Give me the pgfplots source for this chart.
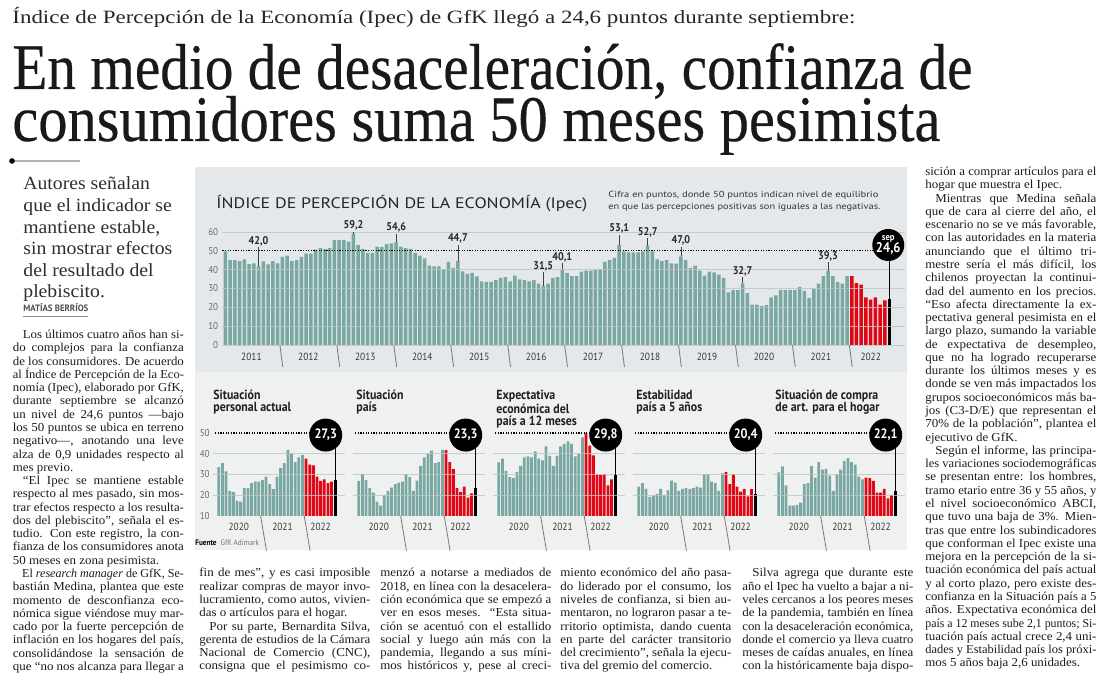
\documentclass[border=0pt]{standalone}
\usepackage{pgfplots}
\pgfplotsset{compat=1.18}
\usepackage{pgfplotstable}
\usepackage{graphicx}
\usepackage{fontspec}
\setmainfont{Liberation Serif}
\newfontfamily\headf{Liberation Serif}
\newfontfamily\bigf[FakeBold=0.35]{Liberation Serif}
\newfontfamily\bodyf[FakeStretch=1.06]{Liberation Serif}
\newfontfamily\chartf[FakeStretch=0.9]{PT Sans}

\definecolor{barteal}{RGB}{121,167,161}
\definecolor{barred}{RGB}{225,6,19}
\definecolor{pandark}{RGB}{228,232,234}
\definecolor{panlight}{RGB}{239,241,241}
\definecolor{gridc}{RGB}{188,196,199}
\definecolor{tickc}{RGB}{105,105,105}
\definecolor{yearc}{RGB}{55,55,55}
\definecolor{sepc}{RGB}{120,120,120}
\definecolor{bodyc}{RGB}{28,28,28}

% Ipec mensual, ene 2011 - sep 2022
\pgfplotstableread{
yr mo v
2011 1 49.7
2011 2 45.1
2011 3 45.1
2011 4 44.6
2011 5 45.5
2011 6 42.9
2011 7 43.4
2011 8 42.0
2011 9 44.4
2011 10 42.8
2011 11 44.6
2011 12 43.4
2012 1 46.8
2012 2 47.5
2012 3 44.6
2012 4 45.0
2012 5 46.8
2012 6 48.5
2012 7 48.5
2012 8 50.6
2012 9 51.5
2012 10 50.9
2012 11 51.5
2012 12 55.7
2013 1 55.7
2013 2 55.7
2013 3 54.9
2013 4 59.2
2013 5 53.2
2013 6 51.1
2013 7 48.9
2013 8 48.9
2013 9 52.3
2013 10 52.0
2013 11 53.5
2013 12 53.9
2014 1 54.6
2014 2 52.3
2014 3 51.5
2014 4 51.1
2014 5 48.9
2014 6 47.5
2014 7 46.0
2014 8 42.1
2014 9 41.7
2014 10 41.7
2014 11 40.3
2014 12 44.1
2015 1 40.9
2015 2 44.7
2015 3 39.1
2015 4 37.8
2015 5 38.3
2015 6 36.4
2015 7 33.8
2015 8 33.5
2015 9 33.5
2015 10 34.4
2015 11 35.6
2015 12 36.1
2016 1 33.8
2016 2 36.9
2016 3 34.9
2016 4 34.4
2016 5 33.8
2016 6 34.4
2016 7 32.6
2016 8 31.5
2016 9 32.6
2016 10 35.6
2016 11 36.1
2016 12 40.1
2017 1 38.3
2017 2 36.6
2017 3 36.6
2017 4 39.0
2017 5 39.5
2017 6 39.5
2017 7 40.0
2017 8 40.0
2017 9 44.1
2017 10 45.1
2017 11 46.3
2017 12 53.1
2018 1 49.7
2018 2 49.2
2018 3 49.2
2018 4 49.2
2018 5 49.7
2018 6 52.7
2018 7 49.7
2018 8 45.5
2018 9 44.6
2018 10 45.1
2018 11 43.4
2018 12 43.2
2019 1 47.0
2019 2 45.1
2019 3 40.9
2019 4 42.1
2019 5 39.5
2019 6 36.9
2019 7 39.0
2019 8 38.6
2019 9 37.3
2019 10 35.6
2019 11 28.0
2019 12 29.2
2020 1 29.2
2020 2 32.7
2020 3 27.5
2020 4 21.5
2020 5 21.5
2020 6 20.7
2020 7 21.2
2020 8 25.3
2020 9 26.3
2020 10 29.2
2020 11 29.2
2020 12 29.2
2021 1 29.2
2021 2 30.9
2021 3 28.7
2021 4 25.0
2021 5 29.7
2021 6 32.6
2021 7 36.6
2021 8 39.3
2021 9 36.6
2021 10 33.5
2021 11 32.6
2021 12 36.6
2022 1 36.6
2022 2 32.8
2022 3 32.1
2022 4 25.3
2022 5 24.1
2022 6 25.3
2022 7 21.5
2022 8 23.7
2022 9 24.6
}\ipec

% subindicadores, ene 2020 - sep 2022
% a: situacion personal, b: situacion pais, c: expectativa 12 meses,
% d: estabilidad 5 anos, e: compra art. hogar
\pgfplotstableread{
yr mo a b c d e
2020 1 33.5 26.9 35.8 24.2 31.0
2020 2 35.5 30.3 37.6 25.8 33.9
2020 3 31.5 27.4 31.8 23.1 24.7
2020 4 22.1 23.4 28.7 19.2 15.0
2020 5 21.5 21.3 28.2 19.8 15.0
2020 6 17.4 16.9 31.1 20.6 15.3
2020 7 16.9 15.0 34.2 23.1 16.5
2020 8 23.4 20.2 38.2 20.2 25.3
2020 9 23.4 22.1 38.7 22.3 25.8
2020 10 25.8 23.7 38.2 27.1 34.2
2020 11 26.6 25.3 41.1 26.1 28.5
2020 12 26.6 26.1 37.6 22.1 36.0
2021 1 27.4 26.6 36.8 23.1 32.3
2021 2 29.0 30.2 43.5 23.4 32.7
2021 3 25.3 28.7 39.0 23.1 29.5
2021 4 22.9 22.1 34.2 23.4 22.1
2021 5 29.0 27.1 39.0 24.2 30.2
2021 6 33.1 34.2 43.5 23.7 32.3
2021 7 35.5 38.2 44.8 30.2 36.6
2021 8 41.9 40.2 46.0 30.2 37.9
2021 9 40.3 41.5 44.7 26.6 36.0
2021 10 36.0 35.5 38.7 25.8 34.7
2021 11 38.2 36.0 39.8 22.1 29.0
2021 12 39.5 41.9 47.9 30.6 27.7
2022 1 37.6 41.8 49.8 31.1 28.5
2022 2 34.7 36.0 43.9 25.3 28.2
2022 3 34.4 32.6 39.2 30.2 26.9
2022 4 29.0 23.4 30.2 24.2 21.3
2022 5 26.9 21.5 29.8 21.8 21.3
2022 6 27.7 24.2 30.2 23.1 23.1
2022 7 25.8 18.9 24.7 19.4 18.5
2022 8 26.6 20.9 27.7 23.0 20.2
2022 9 27.3 23.3 29.8 20.4 22.1
}\subt

\tikzset{
  yl/.style={font=\chartf\fontsize{5.2pt}{5.2pt}\selectfont, text=yearc, inner sep=0pt},
  sepl/.style={draw=sepc, line width=0.4pt},
  gridl/.style={draw=gridc, line width=0.4pt, opacity=0.8},
  dotl/.style={draw=black, line width=0.6pt, dash pattern=on 0.6pt off 0.7pt},
  annl/.style={draw=black!75, line width=0.35pt},
  annt/.style={font=\chartf\bfseries\fontsize{5.6pt}{5.6pt}\selectfont, text=black!85, inner sep=0.4pt, anchor=south},
  badge/.style={circle, fill=black, inner sep=0pt, text=white, font=\chartf\bfseries\fontsize{6.8pt}{6.8pt}\selectfont},
}

\pgfplotsset{
  smallax/.style={anchor=south west, scale only axis, width=66pt, height=41.5pt,
    xmin=-1.6, xmax=34.7, ymin=10, ymax=50, axis line style={draw=none},
    xtick=\empty, ytick=\empty, major tick length=0pt, clip mode=individual,
    yticklabel style={font=\chartf\fontsize{5pt}{5pt}\selectfont, text=tickc, anchor=east, inner sep=0pt, xshift=-1.5pt},
    /pgf/number format/assume math mode=true},
}

% one small chart: left (pt), column, badge text, last value, extra axis options
\newcommand\smallchart[5]{%
\begin{axis}[smallax, at={(#1,-258pt)}, #5]
\addplot[ybar, bar width=1.4pt, fill=barteal, draw=none, restrict x to domain=0:23] table[x expr=\coordindex, y=#2]{\subt};
\addplot[ybar, bar width=1.4pt, fill=barred, draw=none, restrict x to domain=24:31] table[x expr=\coordindex, y=#2]{\subt};
\addplot[ybar, bar width=1.4pt, fill=black, draw=none, restrict x to domain=32:32] table[x expr=\coordindex, y=#2]{\subt};
\draw[gridl] (axis cs:-1.6,20) -- (axis cs:34.7,20);
\draw[gridl] (axis cs:-1.6,30) -- (axis cs:34.7,30);
\draw[gridl] (axis cs:-1.6,40) -- (axis cs:34.7,40);
\draw[dotl] (axis cs:-1,50) -- (axis cs:25,50);
\draw[sepl] (axis cs:11.5,10) -- ++(0,-7pt);
\draw[sepl] (axis cs:23.5,10) -- ++(0,-7pt);
\node[yl, yshift=-5.5pt] at (axis cs:5.5,10) {2020};
\node[yl, yshift=-5.5pt] at (axis cs:17.5,10) {2021};
\node[yl, yshift=-5.5pt] at (axis cs:28,10) {2022};
\draw[annl, black] (axis cs:32,#4) -- (axis cs:32,49);
\node[badge, minimum size=16.5pt] at (axis cs:29.4,49) {#3};
\end{axis}}

% body text: justified lines of fixed width, squeezed if too long
\newlength\cw
\setlength\cw{85.5pt}
\newcommand\J[1]{\setbox0\hbox{#1}\ifdim\wd0>\cw\hbox{\resizebox{\cw}{\height}{#1}}\else\hbox to\cw{#1}\fi}
\newcommand\F[1]{\setbox0\hbox{#1}\ifdim\wd0>\cw\hbox{\resizebox{\cw}{\height}{#1}}\else\hbox to\cw{#1\hfil}\fi}
\newcommand\ind{\hskip 5pt\relax}
\newcommand\bodycol[3]{\node[anchor=base west, inner sep=0pt, text=bodyc] at (#1,#2)
  {\vtop{\bodyf\fontsize{6.1pt}{6.64pt}\selectfont\baselineskip=6.64pt\lineskiplimit=-\maxdimen #3}};}

\begin{document}
\begin{tikzpicture}[x=0.5pt,y=-0.5pt]
\path[use as bounding box, fill=white] (0,0) rectangle (1100,683);

% titulares
\node[anchor=base west, inner sep=0pt, text=black!85] at (12,24)
  {\resizebox{421.5pt}{\height}{\headf\fontsize{9.4pt}{10pt}\selectfont Índice de Percepción de la Economía (Ipec) de GfK llegó a 24,6 puntos durante septiembre:}};
\node[anchor=base west, inner sep=0pt, text=black!90] at (12,89)
  {\resizebox{480pt}{\height}{\bigf\fontsize{32.5pt}{33pt}\selectfont En medio de desaceleración, confianza de}};
\node[anchor=base west, inner sep=0pt, text=black!90] at (12,141)
  {\resizebox{464pt}{\height}{\bigf\fontsize{32.5pt}{33pt}\selectfont consumidores suma 50 meses pesimista}};

\draw[black!30, line width=0.7pt] (12,161) -- (80,161);
\fill[black] (12,161) circle[radius=1.4pt];

% bajada
\node[anchor=base west, inner sep=0pt, text=black!82] at (23,190)
  {\vtop{\bodyf\fontsize{9.3pt}{10.8pt}\selectfont\baselineskip=10.8pt\lineskiplimit=-\maxdimen
   \hbox{Autores señalan}\hbox{que el indicador se}\hbox{mantiene estable,}\hbox{sin mostrar efectos}\hbox{del resultado del}\hbox{plebiscito.}}};
\node[anchor=base west, inner sep=0pt, text=black!70] at (23,312)
  {\resizebox{32.5pt}{\height}{\chartf\bfseries\fontsize{4.6pt}{5pt}\selectfont MATÍAS BERRÍOS}};
\draw[black!45, line width=0.4pt] (23,316) -- (88,316);

% columna izquierda
\bodycol{12.5}{338.5}{%
\J{\ind Los últimos cuatro años han si-}
\J{do complejos para la confianza}
\J{de los consumidores. De acuerdo}
\J{al Índice de Percepción de la Eco-}
\J{nomía (Ipec), elaborado por GfK,}
\J{durante septiembre se alcanzó}
\J{un nivel de 24,6 puntos —bajo}
\J{los 50 puntos se ubica en terreno}
\J{negativo—, anotando una leve}
\J{alza de 0,9 unidades respecto al}
\F{mes previo.}
\J{\ind “El Ipec se mantiene estable}
\J{respecto al mes pasado, sin mos-}
\J{trar efectos respecto a los resulta-}
\J{dos del plebiscito”, señala el es-}
\J{tudio. Con este registro, la con-}
\J{fianza de los consumidores anota}
\F{50 meses en zona pesimista.}
\J{\ind El \textit{research manager} de GfK, Se-}
\J{bastián Medina, plantea que este}
\J{momento de desconfianza eco-}
\J{nómica sigue viéndose muy mar-}
\J{cado por la fuerte percepción de}
\J{inflación en los hogares del país,}
\J{consolidándose la sensación de}
\J{que “no nos alcanza para llegar a}}

% columna derecha
\bodycol{925}{175.5}{%
\J{sición a comprar artículos para el}
\F{hogar que muestra el Ipec.}
\J{\ind Mientras que Medina señala}
\J{que de cara al cierre del año, el}
\J{escenario no se ve más favorable,}
\J{con las autoridades en la materia}
\J{anunciando que el último tri-}
\J{mestre sería el más difícil, los}
\J{chilenos proyectan la continui-}
\J{dad del aumento en los precios.}
\J{“Eso afecta directamente la ex-}
\J{pectativa general pesimista en el}
\J{largo plazo, sumando la variable}
\J{de expectativa de desempleo,}
\J{que no ha logrado recuperarse}
\J{durante los últimos meses y es}
\J{donde se ven más impactados los}
\J{grupos socioeconómicos más ba-}
\J{jos (C3-D/E) que representan el}
\J{70\% de la población”, plantea el}
\F{ejecutivo de GfK.}
\J{\ind Según el informe, las principa-}
\J{les variaciones sociodemográficas}
\J{se presentan entre: los hombres,}
\J{tramo etario entre 36 y 55 años, y}
\J{el nivel socioeconómico ABCI,}
\J{que tuvo una baja de 3\%. Mien-}
\J{tras que entre los subindicadores}
\J{que conforman el Ipec existe una}
\J{mejora en la percepción de la si-}
\J{tuación económica del país actual}
\J{y al corto plazo, pero existe des-}
\J{confianza en la Situación país a 5}
\J{años. Expectativa económica del}
\J{país a 12 meses sube 2,1 puntos; Si-}
\J{tuación país actual crece 2,4 uni-}
\J{dades y Estabilidad país los próxi-}
\F{mos 5 años baja 2,6 unidades.}}

% columnas bajo el grafico
\bodycol{199}{577}{%
\J{fin de mes”, y es casi imposible}
\J{realizar compras de mayor invo-}
\J{lucramiento, como autos, vivien-}
\F{das o artículos para el hogar.}
\J{\ind Por su parte, Bernardita Silva,}
\J{gerenta de estudios de la Cámara}
\J{Nacional de Comercio (CNC),}
\J{consigna que el pesimismo co-}}
\bodycol{380}{577}{%
\J{menzó a notarse a mediados de}
\J{2018, en línea con la desacelera-}
\J{ción económica que se empezó a}
\J{ver en esos meses. “Esta situa-}
\J{ción se acentuó con el estallido}
\J{social y luego aún más con la}
\J{pandemia, llegando a sus míni-}
\J{mos históricos y, pese al creci-}}
\bodycol{560}{577}{%
\J{miento económico del año pasa-}
\J{do liderado por el consumo, los}
\J{niveles de confianza, si bien au-}
\J{mentaron, no lograron pasar a te-}
\J{rritorio optimista, dando cuenta}
\J{en parte del carácter transitorio}
\J{del crecimiento”, señala la ejecu-}
\F{tiva del gremio del comercio.}}
\bodycol{742}{577}{%
\J{\ind Silva agrega que durante este}
\J{año el Ipec ha vuelto a bajar a ni-}
\J{veles cercanos a los peores meses}
\J{de la pandemia, también en línea}
\J{con la desaceleración económica,}
\J{donde el comercio ya lleva cuatro}
\J{meses de caídas anuales, en línea}
\J{con la históricamente baja dispo-}}

% paneles del grafico
\fill[panlight] (195,372) rectangle (907,550);
\fill[pandark] (195,167) rectangle (907,372);

\node[anchor=base west, inner sep=0pt, text=black!85] at (216,209)
  {\resizebox{185.5pt}{\height}{\chartf\fontsize{7.6pt}{8pt}\selectfont ÍNDICE DE PERCEPCIÓN DE LA ECONOMÍA (Ipec)}};
\node[anchor=base west, inner sep=0pt, text=black!80] at (608,198)
  {\resizebox{135pt}{\height}{\chartf\fontsize{4.4pt}{5pt}\selectfont Cifra en puntos, donde 50 puntos indican nivel de equilibrio}};
\node[anchor=base west, inner sep=0pt, text=black!80] at (608,209.5)
  {\resizebox{136pt}{\height}{\chartf\fontsize{4.4pt}{5pt}\selectfont en que las percepciones positivas son iguales a las negativas.}};

% titulos de los graficos chicos
\begin{scope}[every node/.style={anchor=north west, inner sep=0pt, align=left, text=black!88,
    font=\chartf\bfseries\fontsize{6.6pt}{6pt}\selectfont}]
\node at (213,390) {Situación\\personal actual};
\node at (356,390) {Situación\\país};
\node at (496,390) {Expectativa\\económica del\\país a 12 meses};
\node at (636,390) {Estabilidad\\país a 5 años};
\node at (775,390) {Situación de compra\\de art. para el hogar};
\end{scope}

\node[anchor=base west, inner sep=0pt] at (195,546)
  {\chartf\fontsize{4pt}{4pt}\selectfont\textbf{Fuente}\enspace\textcolor{black!55}{GfK Adimark}};

% ejes: coordenadas de lienzo en pt, con x e y por defecto
\begin{scope}[x=1cm,y=1cm]
\begin{axis}[anchor=south west, at={(111.25pt,-172.5pt)}, scale only axis, width=341.2pt, height=56.5pt,
  xmin=-0.6, xmax=143.2, ymin=0, ymax=60, axis line style={draw=none},
  xtick=\empty, ytick={0,10,...,60}, major tick length=0pt, clip mode=individual,
  yticklabel style={font=\chartf\fontsize{5pt}{5pt}\selectfont, text=tickc, anchor=east, inner sep=0pt, xshift=-2pt},
  /pgf/number format/assume math mode=true]
\addplot[ybar, bar width=1.75pt, fill=barteal, draw=none, restrict x to domain=0:131] table[x expr=\coordindex, y=v]{\ipec};
\addplot[ybar, bar width=1.75pt, fill=barred, draw=none, restrict x to domain=132:139] table[x expr=\coordindex, y=v]{\ipec};
\addplot[ybar, bar width=1.75pt, fill=black, draw=none, restrict x to domain=140:140] table[x expr=\coordindex, y=v]{\ipec};
\draw[gridl] (axis cs:-0.6,0) -- (axis cs:143.2,0);
\draw[gridl] (axis cs:-0.6,10) -- (axis cs:143.2,10);
\draw[gridl] (axis cs:-0.6,20) -- (axis cs:143.2,20);
\draw[gridl] (axis cs:-0.6,30) -- (axis cs:143.2,30);
\draw[gridl] (axis cs:-0.6,40) -- (axis cs:143.2,40);
\draw[gridl] (axis cs:-0.6,60) -- (axis cs:143.2,60);
\draw[dotl] (axis cs:-0.6,50) -- (axis cs:136.5,50);
% separadores y años
\draw[sepl] (axis cs:11.5,0) -- ++(0,-11pt);
\draw[sepl] (axis cs:23.5,0) -- ++(0,-11pt);
\draw[sepl] (axis cs:35.5,0) -- ++(0,-11pt);
\draw[sepl] (axis cs:47.5,0) -- ++(0,-11pt);
\draw[sepl] (axis cs:59.5,0) -- ++(0,-11pt);
\draw[sepl] (axis cs:71.5,0) -- ++(0,-11pt);
\draw[sepl] (axis cs:83.5,0) -- ++(0,-11pt);
\draw[sepl] (axis cs:95.5,0) -- ++(0,-11pt);
\draw[sepl] (axis cs:107.5,0) -- ++(0,-11pt);
\draw[sepl] (axis cs:119.5,0) -- ++(0,-11pt);
\draw[sepl] (axis cs:131.5,0) -- ++(0,-11pt);
\node[yl, yshift=-6pt] at (axis cs:5.5,0) {2011};
\node[yl, yshift=-6pt] at (axis cs:17.5,0) {2012};
\node[yl, yshift=-6pt] at (axis cs:29.5,0) {2013};
\node[yl, yshift=-6pt] at (axis cs:41.5,0) {2014};
\node[yl, yshift=-6pt] at (axis cs:53.5,0) {2015};
\node[yl, yshift=-6pt] at (axis cs:65.5,0) {2016};
\node[yl, yshift=-6pt] at (axis cs:77.5,0) {2017};
\node[yl, yshift=-6pt] at (axis cs:89.5,0) {2018};
\node[yl, yshift=-6pt] at (axis cs:101.5,0) {2019};
\node[yl, yshift=-6pt] at (axis cs:113.5,0) {2020};
\node[yl, yshift=-6pt] at (axis cs:125.5,0) {2021};
\node[yl, yshift=-6pt] at (axis cs:136,0) {2022};
% valores destacados
\draw[annl] (axis cs:7,42.0) -- (axis cs:7,52.0) node[annt] {42,0};
\draw[annl] (axis cs:27,59.2) -- (axis cs:27,60.2) node[annt] {59,2};
\draw[annl] (axis cs:36,54.6) -- (axis cs:36,59.1) node[annt] {54,6};
\draw[annl] (axis cs:49,44.7) -- (axis cs:49,53.2) node[annt] {44,7};
\draw[annl] (axis cs:67,31.5) -- (axis cs:67,38.5) node[annt] {31,5};
\draw[annl] (axis cs:71,40.1) -- (axis cs:71,43.5) node[annt] {40,1};
\draw[annl] (axis cs:83,53.1) -- (axis cs:83,58.6) node[annt] {53,1};
\draw[annl] (axis cs:89,52.7) -- (axis cs:89,56.7) node[annt] {52,7};
\draw[annl] (axis cs:96,47.0) -- (axis cs:96,52.3) node[annt] {47,0};
\draw[annl] (axis cs:109,32.7) -- (axis cs:109,36.1) node[annt] {32,7};
\draw[annl] (axis cs:127,39.3) -- (axis cs:127,44.1) node[annt] {39,3};
\draw[annl, black] (axis cs:140,24.6) -- (axis cs:140,53.1);
\node[badge, minimum size=16pt, align=center] at (axis cs:139.7,53.1)
  {{\fontsize{4.8pt}{4.8pt}\selectfont sep}\\[-0.9pt]{\fontsize{7pt}{7pt}\selectfont 24,6}};
\end{axis}

\smallchart{106.5pt}{a}{27,3}{27.3}{ytick={10,20,...,50}}
\smallchart{176.5pt}{b}{23,3}{23.3}{}
\smallchart{246.5pt}{c}{29,8}{29.8}{}
\smallchart{316.5pt}{d}{20,4}{20.4}{}
\smallchart{386.5pt}{e}{22,1}{22.1}{}
\end{scope}
\end{tikzpicture}
\end{document}
